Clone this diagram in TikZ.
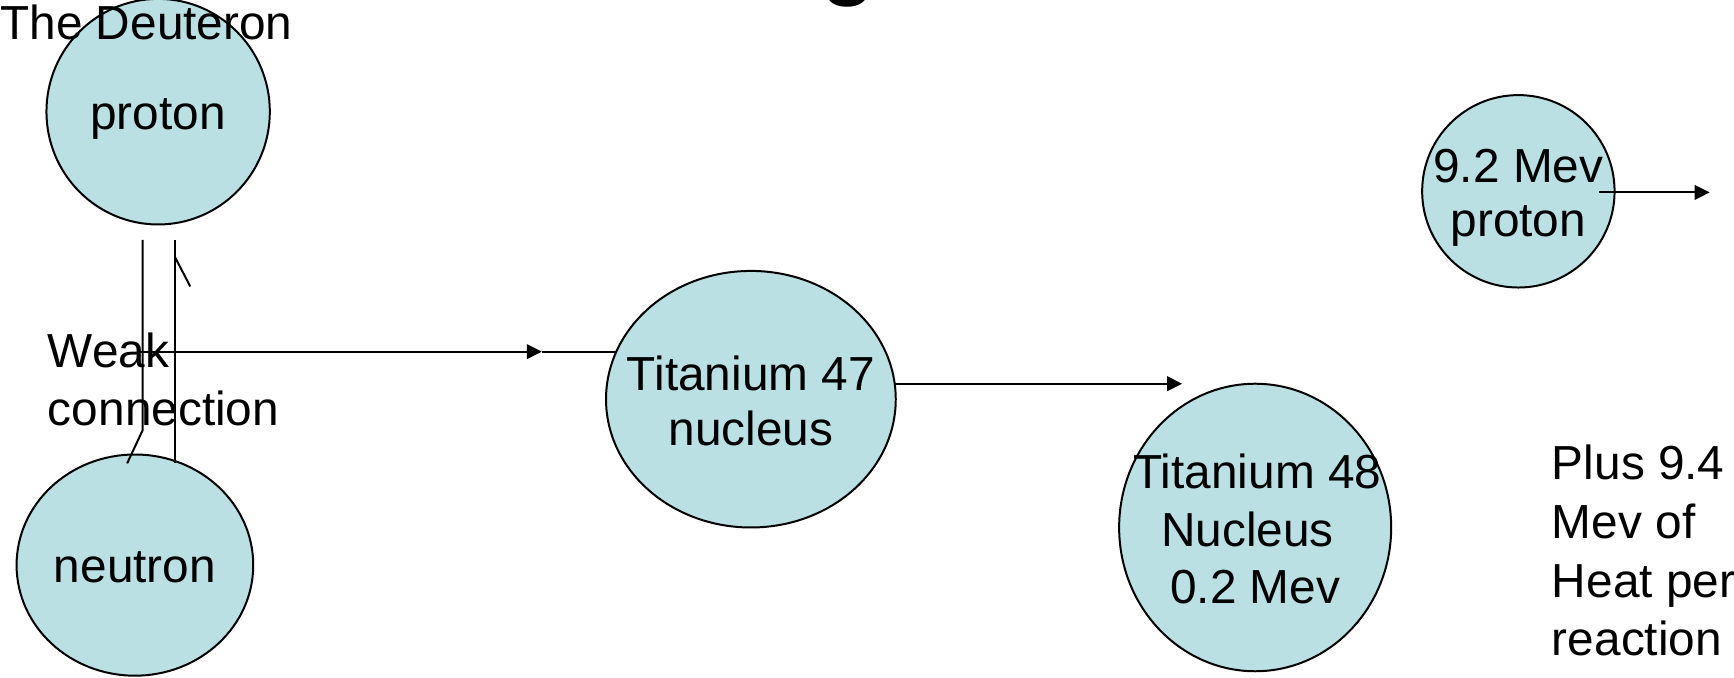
\documentclass[tikz,border=0pt]{standalone}
\usepackage{fontspec}
\setmainfont{Liberation Sans}
\usetikzlibrary{shapes.geometric,arrows.meta}
\definecolor{nucl}{RGB}{186,224,227}
\newcommand\bodyfont{\fontsize{21.6pt}{26pt}\selectfont}
\begin{document}
\begin{tikzpicture}[x=0.5pt,y=-0.5pt,
  ball/.style={draw, fill=nucl, ellipse, line width=0.9pt, inner sep=0pt, outer sep=0pt},
  txt/.style={font=\bodyfont, inner sep=0pt, anchor=base},
  wire/.style={line width=0.9pt},
  arr/.style={wire, -{Triangle[length=6.8pt,width=6.6pt]}}]
\useasboundingbox (0,0) rectangle (1568,613);

% tail of the heading that runs off the top edge
\begin{scope}
  \clip (0,0) rectangle (1568,613);
  \node[font=\fontsize{40pt}{48pt}\selectfont\bfseries, inner sep=0pt, anchor=base] (headtail) at (767,-10.5) {g};
\end{scope}

% particles and nuclei
\node[ball, minimum width=101pt, minimum height=102pt] (proton)  at (143,101)  {};
\node[ball, minimum width=107pt, minimum height=100pt] (neutron) at (122,511)  {};
\node[ball, minimum width=131pt, minimum height=116pt] (ti47)    at (679,361)  {};
\node[ball, minimum width=123pt, minimum height=130pt] (ti48)    at (1135,477) {};
\node[ball, minimum width=87pt,  minimum height=87pt]  (p92)     at (1373,173) {};

% the weak bond between proton and neutron
\coordinate (a1) at (129,217);
\coordinate (a2) at (129,389);
\coordinate (a3) at (115,419);
\coordinate (b1) at (158,217);
\coordinate (b2) at (158,419);
\coordinate (c1) at (158,232);
\coordinate (c2) at (172,259);
\draw[wire] (a1) -- (a2) -- (a3);
\draw[wire] (b1) -- (b2);
\draw[wire] (c1) -- (c2);

% deuteron goes into the titanium 47 nucleus
\coordinate (wkstart) at (125,318);
\coordinate (wkmid) at (490,318);
\draw[arr] (wkstart) -- (wkmid);
\draw[wire] (wkmid) -- (wkmid -| ti47.160.6);

% titanium 48 comes out
\coordinate (t48in) at (1069,347);
\draw[arr] (t48in -| ti47.6) -- (t48in);

% the freed proton flies off
\coordinate (pend) at (1546,174);
\draw[arr] ([xshift=36.5pt,yshift=-0.5pt]p92.center) -- (pend);

% labels
\node[txt, anchor=base west] (deut) at (0,36) {The Deuteron};
\node[txt] (protonlbl) at (143,117) {proton};
\node[txt] (neutronlbl) at (122,527) {neutron};
\node[txt, anchor=base west] (weak1) at (43,332) {Weak};
\node[txt, anchor=base west] (weak2) at (43,385) {connection};
\node[txt] (t47a) at (679,353) {Titanium 47};
\node[txt] (t47b) at (679,403) {nucleus};
\node[txt] (t48a) at (1137,442) {Titanium 48};
\node[txt] (t48b) at (1128,494) {Nucleus};
\node[txt] (t48c) at (1135,546) {0.2 Mev};
\node[txt] (p92a) at (1373,165) {9.2 Mev};
\node[txt] (p92b) at (1373,214) {proton};
\node[txt, anchor=base west] (heat1) at (1403,434) {Plus 9.4};
\node[txt, anchor=base west] (heat2) at (1403,487) {Mev of};
\node[txt, anchor=base west] (heat3) at (1403,540) {Heat per};
\node[txt, anchor=base west] (heat4) at (1403,593) {reaction};
\end{tikzpicture}
\end{document}
